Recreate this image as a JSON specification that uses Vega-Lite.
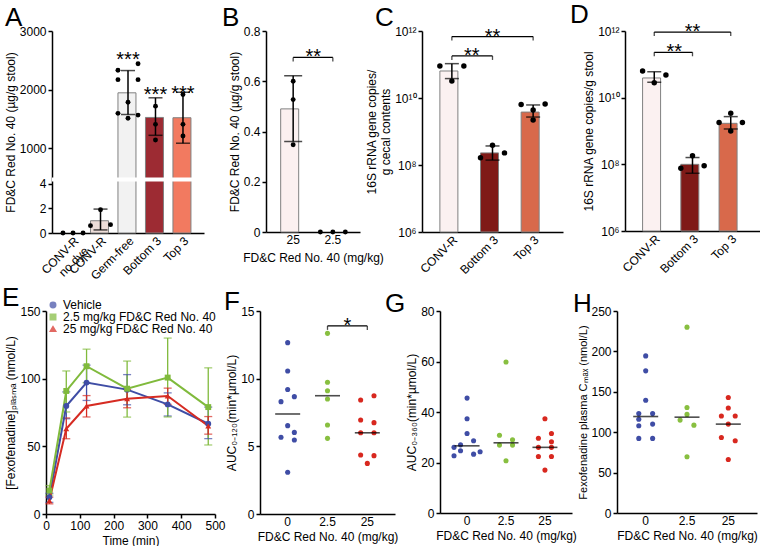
{
  "$schema": "https://vega.github.io/schema/vega-lite/v6.json",
  "background": "white",
  "padding": {"left": 2, "top": 2, "right": 0, "bottom": 0},
  "config": {
    "font": "Liberation Sans",
    "view": {"stroke": null},
    "axis": {"labelFont": "Liberation Sans", "titleFont": "Liberation Sans", "labelFontSize": 12, "titleFontSize": 12, "titleFontWeight": "normal", "labelColor": "black", "titleColor": "black", "domainColor": "black", "tickColor": "black", "domainWidth": 1.5, "tickWidth": 1.5, "tickSize": 4, "labelPadding": 2, "grid": false},
    "axisBand": {"ticks": false},
    "title": {"font": "Liberation Sans", "fontSize": 26, "fontWeight": "normal", "anchor": "start", "frame": "group", "offset": 0, "dy": 10, "color": "black"},
    "legend": {"labelFont": "Liberation Sans", "labelFontSize": 12, "labelColor": "black", "symbolSize": 30, "rowPadding": -10}
  },
  "datasets": {
    "aBar": [
      {"group": "CONV-R no dye", "mean": 0, "lo": 0, "hi": 0},
      {"group": "CONV-R", "mean": 1.0, "lo": 0.25, "hi": 1.95},
      {"group": "Germ-free", "mean": 1945, "lo": 1575, "hi": 2325},
      {"group": "Bottom 3", "mean": 1525, "lo": 1220, "hi": 1860},
      {"group": "Top 3", "mean": 1520, "lo": 1085, "hi": 1955}
    ],
    "aDot": [
      {"group": "CONV-R no dye", "rep": 1, "v": 0},
      {"group": "CONV-R no dye", "rep": 2, "v": 0},
      {"group": "CONV-R no dye", "rep": 3, "v": 0},
      {"group": "CONV-R", "rep": 2, "v": 1.9},
      {"group": "CONV-R", "rep": 1, "v": 0.6},
      {"group": "CONV-R", "rep": 3, "v": 0.68},
      {"group": "Germ-free", "rep": 1, "v": 2330},
      {"group": "Germ-free", "rep": 3, "v": 2440},
      {"group": "Germ-free", "rep": 1, "v": 2170},
      {"group": "Germ-free", "rep": 3, "v": 2170},
      {"group": "Germ-free", "rep": 2, "v": 1785},
      {"group": "Germ-free", "rep": 1, "v": 1595},
      {"group": "Germ-free", "rep": 3, "v": 1565},
      {"group": "Germ-free", "rep": 2, "v": 1510},
      {"group": "Bottom 3", "rep": 2, "v": 1718},
      {"group": "Bottom 3", "rep": 2, "v": 1407},
      {"group": "Bottom 3", "rep": 2, "v": 1141},
      {"group": "Top 3", "rep": 2, "v": 1915},
      {"group": "Top 3", "rep": 2, "v": 1407},
      {"group": "Top 3", "rep": 2, "v": 1209}
    ],
    "aStar": [
      {"group": "Germ-free", "y": 2600, "label": "***"},
      {"group": "Bottom 3", "y": 2005, "label": "***"},
      {"group": "Top 3", "y": 2020, "label": "***"}
    ],
    "bBar": [
      {"dose": "25", "mean": 0.49, "lo": 0.36, "hi": 0.622},
      {"dose": "2.5", "mean": 0, "lo": 0, "hi": 0}
    ],
    "bDot": [
      {"dose": "25", "rep": 2, "v": 0.6},
      {"dose": "25", "rep": 2, "v": 0.527},
      {"dose": "25", "rep": 2, "v": 0.347},
      {"dose": "2.5", "rep": 1, "v": 0},
      {"dose": "2.5", "rep": 2, "v": 0},
      {"dose": "2.5", "rep": 3, "v": 0}
    ],
    "bSig": [{"a": "25", "b": "2.5", "y": 0.695, "label": "**"}],
    "cBar": [
      {"group": "CONV-R", "mean": 6.4e10, "lo": 3.8e10, "hi": 1.06e11},
      {"group": "Bottom 3", "mean": 2.3e8, "lo": 1.4e8, "hi": 3.7e8},
      {"group": "Top 3", "mean": 3.8e9, "lo": 2.7e9, "hi": 6.2e9}
    ],
    "cDot": [
      {"group": "CONV-R", "rep": 1, "v": 9.0e10},
      {"group": "CONV-R", "rep": 3, "v": 9.0e10},
      {"group": "CONV-R", "rep": 2, "v": 3.2e10},
      {"group": "Bottom 3", "rep": 2, "v": 3.9e8},
      {"group": "Bottom 3", "rep": 1, "v": 1.65e8},
      {"group": "Bottom 3", "rep": 3, "v": 2.3e8},
      {"group": "Top 3", "rep": 1, "v": 6.4e9},
      {"group": "Top 3", "rep": 3, "v": 6.6e9},
      {"group": "Top 3", "rep": 2, "v": 4.4e9},
      {"group": "Top 3", "rep": 2, "v": 2.2e9}
    ],
    "cSig": [
      {"a": "CONV-R", "b": "Top 3", "mid": "Bottom 3", "wide": true, "y": 6.8e11, "label": "**"},
      {"a": "CONV-R", "b": "Bottom 3", "mid": "CONV-R", "wide": false, "y": 1.8e11, "label": "**"}
    ],
    "dBar": [
      {"group": "CONV-R", "mean": 3.9e10, "lo": 2.9e10, "hi": 6.0e10},
      {"group": "Bottom 3", "mean": 1.0e8, "lo": 5.4e7, "hi": 1.6e8},
      {"group": "Top 3", "mean": 1.7e9, "lo": 1.15e9, "hi": 2.7e9}
    ],
    "dDot": [
      {"group": "CONV-R", "rep": 1, "v": 6.3e10},
      {"group": "CONV-R", "rep": 3, "v": 4.8e10},
      {"group": "CONV-R", "rep": 2, "v": 2.8e10},
      {"group": "Bottom 3", "rep": 2, "v": 1.8e8},
      {"group": "Bottom 3", "rep": 3, "v": 9.1e7},
      {"group": "Bottom 3", "rep": 1, "v": 7.6e7},
      {"group": "Top 3", "rep": 2, "v": 3.4e9},
      {"group": "Top 3", "rep": 1, "v": 1.8e9},
      {"group": "Top 3", "rep": 3, "v": 1.8e9},
      {"group": "Top 3", "rep": 2, "v": 1.0e9}
    ],
    "dSig": [
      {"a": "CONV-R", "b": "Top 3", "mid": "Bottom 3", "wide": true, "y": 9.3e11, "label": "**"},
      {"a": "CONV-R", "b": "Bottom 3", "mid": "CONV-R", "wide": false, "y": 2.3e11, "label": "**"}
    ],
    "eData": [
      {"series": "Vehicle", "t": 10, "mean": 12.4, "lo": 8.6, "hi": 15.3},
      {"series": "Vehicle", "t": 60, "mean": 79.8, "lo": 70.4, "hi": 90.2},
      {"series": "Vehicle", "t": 120, "mean": 97.1, "lo": 83.9, "hi": 110},
      {"series": "Vehicle", "t": 240, "mean": 91.9, "lo": 80.7, "hi": 103},
      {"series": "Vehicle", "t": 360, "mean": 81.0, "lo": 72.4, "hi": 89.5},
      {"series": "Vehicle", "t": 480, "mean": 66.7, "lo": 55.7, "hi": 79},
      {"series": "2.5 mg/kg FD&C Red No. 40", "t": 10, "mean": 17.3, "lo": 14, "hi": 21},
      {"series": "2.5 mg/kg FD&C Red No. 40", "t": 60, "mean": 90.9, "lo": 75.4, "hi": 105.7},
      {"series": "2.5 mg/kg FD&C Red No. 40", "t": 120, "mean": 109.2, "lo": 97, "hi": 121.8},
      {"series": "2.5 mg/kg FD&C Red No. 40", "t": 240, "mean": 92.6, "lo": 71.6, "hi": 113},
      {"series": "2.5 mg/kg FD&C Red No. 40", "t": 360, "mean": 100.8, "lo": 71.7, "hi": 130},
      {"series": "2.5 mg/kg FD&C Red No. 40", "t": 480, "mean": 79, "lo": 51, "hi": 108},
      {"series": "25 mg/kg FD&C Red No. 40", "t": 10, "mean": 9.9, "lo": 7.5, "hi": 12.5},
      {"series": "25 mg/kg FD&C Red No. 40", "t": 60, "mean": 63, "lo": 55.6, "hi": 71},
      {"series": "25 mg/kg FD&C Red No. 40", "t": 120, "mean": 79.8, "lo": 71.7, "hi": 87.5},
      {"series": "25 mg/kg FD&C Red No. 40", "t": 240, "mean": 85.2, "lo": 78.5, "hi": 92},
      {"series": "25 mg/kg FD&C Red No. 40", "t": 360, "mean": 87.2, "lo": 81, "hi": 93},
      {"series": "25 mg/kg FD&C Red No. 40", "t": 480, "mean": 65, "lo": 59, "hi": 72}
    ],
    "fDot": [
      {"dose": "0", "rep": 3, "v": 12.66}, {"dose": "0", "rep": 3, "v": 10.57}, {"dose": "0", "rep": 3, "v": 9.2},
      {"dose": "0", "rep": 2, "v": 8.3}, {"dose": "0", "rep": 4, "v": 8.67}, {"dose": "0", "rep": 3, "v": 6.53},
      {"dose": "0", "rep": 4, "v": 6.03}, {"dose": "0", "rep": 2, "v": 5.67}, {"dose": "0", "rep": 4, "v": 5.47},
      {"dose": "0", "rep": 3, "v": 3.08},
      {"dose": "2.5", "rep": 3, "v": 13.35}, {"dose": "2.5", "rep": 3, "v": 9.73}, {"dose": "2.5", "rep": 3, "v": 9.11},
      {"dose": "2.5", "rep": 3, "v": 8.5}, {"dose": "2.5", "rep": 3, "v": 6.58}, {"dose": "2.5", "rep": 3, "v": 5.59},
      {"dose": "25", "rep": 2, "v": 8.42}, {"dose": "25", "rep": 4, "v": 8.74}, {"dose": "25", "rep": 2, "v": 6.95},
      {"dose": "25", "rep": 4, "v": 6.75}, {"dose": "25", "rep": 2, "v": 6.0}, {"dose": "25", "rep": 4, "v": 6.0},
      {"dose": "25", "rep": 2, "v": 4.36}, {"dose": "25", "rep": 4, "v": 4.31}, {"dose": "25", "rep": 3, "v": 3.74}
    ],
    "fMed": [{"dose": "0", "med": 7.39}, {"dose": "2.5", "med": 8.74}, {"dose": "25", "med": 6.0}],
    "fSig": [{"a": "2.5", "b": "25", "y": 13.9, "label": "*"}],
    "gDot": [
      {"dose": "0", "rep": 3, "v": 45.5}, {"dose": "0", "rep": 3, "v": 37.3}, {"dose": "0", "rep": 3, "v": 31.5},
      {"dose": "0", "rep": 4, "v": 28.6}, {"dose": "0", "rep": 2, "v": 27.0}, {"dose": "0", "rep": 1, "v": 26.0},
      {"dose": "0", "rep": 2, "v": 24.65}, {"dose": "0", "rep": 5, "v": 24.25}, {"dose": "0", "rep": 4, "v": 23.3},
      {"dose": "0", "rep": 1, "v": 22.67},
      {"dose": "2.5", "rep": 3, "v": 59.8}, {"dose": "2.5", "rep": 2, "v": 30.8}, {"dose": "2.5", "rep": 4, "v": 29.0},
      {"dose": "2.5", "rep": 2, "v": 26.9}, {"dose": "2.5", "rep": 4, "v": 26.9}, {"dose": "2.5", "rep": 3, "v": 20.7},
      {"dose": "25", "rep": 3, "v": 37.3}, {"dose": "25", "rep": 4, "v": 31.5}, {"dose": "25", "rep": 2, "v": 29.6},
      {"dose": "25", "rep": 4, "v": 28.2}, {"dose": "25", "rep": 2, "v": 26.0}, {"dose": "25", "rep": 4, "v": 26.0},
      {"dose": "25", "rep": 2, "v": 22.4}, {"dose": "25", "rep": 4, "v": 22.4}, {"dose": "25", "rep": 3, "v": 17.0}
    ],
    "gMed": [{"dose": "0", "med": 26.6}, {"dose": "2.5", "med": 27.8}, {"dose": "25", "med": 26.0}],
    "hDot": [
      {"dose": "0", "rep": 3, "v": 194.4}, {"dose": "0", "rep": 3, "v": 175.9}, {"dose": "0", "rep": 3, "v": 139.6},
      {"dose": "0", "rep": 2, "v": 123}, {"dose": "0", "rep": 4, "v": 123}, {"dose": "0", "rep": 2, "v": 116},
      {"dose": "0", "rep": 4, "v": 110}, {"dose": "0", "rep": 2, "v": 108}, {"dose": "0", "rep": 2, "v": 92.3},
      {"dose": "0", "rep": 4, "v": 92.3},
      {"dose": "2.5", "rep": 3, "v": 230}, {"dose": "2.5", "rep": 3, "v": 130.5}, {"dose": "2.5", "rep": 3, "v": 122},
      {"dose": "2.5", "rep": 2, "v": 115}, {"dose": "2.5", "rep": 4, "v": 108.7}, {"dose": "2.5", "rep": 3, "v": 69.6},
      {"dose": "25", "rep": 3, "v": 142.9}, {"dose": "25", "rep": 3, "v": 130}, {"dose": "25", "rep": 2, "v": 120},
      {"dose": "25", "rep": 4, "v": 120}, {"dose": "25", "rep": 3, "v": 110}, {"dose": "25", "rep": 2, "v": 93.5},
      {"dose": "25", "rep": 4, "v": 89.4}, {"dose": "25", "rep": 3, "v": 66.3}
    ],
    "hMed": [{"dose": "0", "med": 119.4}, {"dose": "2.5", "med": 118.6}, {"dose": "25", "med": 110}]
  },
  "spacing": -1,
  "align": "none",
  "resolve": {"scale": {"color": "independent", "xOffset": "independent", "shape": "independent"}},
  "vconcat": [
    {
      "bounds": "flush",
      "spacing": 62,
      "resolve": {"scale": {"color": "independent", "xOffset": "independent", "shape": "independent"}},
      "hconcat": [
        {
          "width": 152, "height": 202,
          "title": {"text": "A", "dx": -47},
          "layer": [
            {
              "data": {"name": "aBar"},
              "transform": [{"filter": "datum.mean > 0"}],
              "mark": {"type": "bar", "stroke": "#808080", "strokeWidth": 1},
              "encoding": {
                "x": {"field": "group", "type": "nominal", "scale": {"domain": ["CONV-R no dye", "CONV-R", "Germ-free", "Bottom 3", "Top 3"], "paddingInner": 0.27, "paddingOuter": 0.4}, "axis": {"title": null, "labelAngle": -45, "labelExpr": "datum.label == 'CONV-R no dye' ? ['CONV-R', 'no dye'] : datum.label"}},
                "y": {"field": "mean", "type": "quantitative", "scale": {"domain": [0, 4.2, 500, 3000], "range": [202, 150.5, 146.5, 0], "nice": false, "zero": false}, "axis": {"values": [0, 2, 4, 1000, 2000, 3000], "format": "d", "title": "FD&C Red No. 40 (µg/g stool)", "titlePadding": 2}},
                "y2": {"datum": 0},
                "color": {"field": "group", "type": "nominal", "scale": {"domain": ["CONV-R no dye", "CONV-R", "Germ-free", "Bottom 3", "Top 3"], "range": ["#FFFFFF", "#EDDDD8", "#F2F2F2", "#9D2B33", "#F27A60"]}, "legend": null}
              }
            },
            {
              "data": {"values": [{}]},
              "mark": {"type": "rect", "color": "white"},
              "encoding": {"y": {"datum": 4.2}, "y2": {"datum": 500}}
            },
            {
              "data": {"name": "aBar"},
              "transform": [{"filter": "datum.hi > datum.lo"}],
              "mark": {"type": "rule", "color": "black", "strokeWidth": 1.5},
              "encoding": {"x": {"field": "group", "type": "nominal"}, "y": {"field": "lo", "type": "quantitative"}, "y2": {"field": "hi"}}
            },
            {
              "data": {"name": "aBar"},
              "transform": [{"filter": "datum.hi > datum.lo"}, {"fold": ["lo", "hi"], "as": ["k", "e"]}],
              "mark": {"type": "tick", "color": "black", "size": 14, "thickness": 1.5, "orient": "horizontal"},
              "encoding": {"x": {"field": "group", "type": "nominal"}, "y": {"field": "e", "type": "quantitative"}}
            },
            {
              "data": {"name": "aDot"},
              "mark": {"type": "circle", "size": 24, "color": "black", "opacity": 1},
              "encoding": {"x": {"field": "group", "type": "nominal"}, "xOffset": {"field": "rep", "type": "ordinal", "scale": {"domain": [1, 2, 3], "paddingInner": 0, "paddingOuter": 0}}, "y": {"field": "v", "type": "quantitative"}}
            },
            {
              "data": {"name": "aStar"},
              "mark": {"type": "text", "fontSize": 20, "baseline": "alphabetic", "dy": 12, "color": "black"},
              "encoding": {"x": {"field": "group", "type": "nominal"}, "y": {"field": "y", "type": "quantitative"}, "text": {"field": "label"}}
            }
          ]
        },
        {
          "width": 94, "height": 201,
          "title": {"text": "B", "dx": -44, "align": "left"},
          "layer": [
            {
              "data": {"name": "bBar"},
              "transform": [{"filter": "datum.mean > 0"}],
              "mark": {"type": "bar", "stroke": "#808080", "strokeWidth": 1, "color": "#FBF0F0"},
              "encoding": {
                "x": {"field": "dose", "type": "nominal", "scale": {"domain": ["25", "2.5"], "paddingInner": 0.37, "paddingOuter": 0.37}, "axis": {"title": "FD&C Red No. 40 (mg/kg)", "labelAngle": 0, "titlePadding": 7}},
                "y": {"field": "mean", "type": "quantitative", "scale": {"domain": [0, 0.8], "nice": false}, "axis": {"values": [0, 0.2, 0.4, 0.6, 0.8], "format": "~g", "title": "FD&C Red No. 40 (µg/g stool)", "titlePadding": 2}},
                "y2": {"datum": 0}
              }
            },
            {
              "data": {"name": "bBar"},
              "transform": [{"filter": "datum.hi > datum.lo"}],
              "mark": {"type": "rule", "color": "black", "strokeWidth": 1.5},
              "encoding": {"x": {"field": "dose", "type": "nominal"}, "y": {"field": "lo", "type": "quantitative"}, "y2": {"field": "hi"}}
            },
            {
              "data": {"name": "bBar"},
              "transform": [{"filter": "datum.hi > datum.lo"}, {"fold": ["lo", "hi"], "as": ["k", "e"]}],
              "mark": {"type": "tick", "color": "black", "size": 18, "thickness": 1.5, "orient": "horizontal"},
              "encoding": {"x": {"field": "dose", "type": "nominal"}, "y": {"field": "e", "type": "quantitative"}}
            },
            {
              "data": {"name": "bDot"},
              "mark": {"type": "circle", "size": 24, "color": "black", "opacity": 1},
              "encoding": {"x": {"field": "dose", "type": "nominal"}, "xOffset": {"field": "rep", "type": "ordinal", "scale": {"domain": [1, 2, 3], "paddingInner": 0, "paddingOuter": 0}}, "y": {"field": "v", "type": "quantitative"}}
            },
            {
              "data": {"name": "bSig"},
              "mark": {"type": "rule", "color": "black", "strokeWidth": 1.3},
              "encoding": {"x": {"field": "a", "type": "nominal"}, "x2": {"field": "b"}, "y": {"field": "y", "type": "quantitative"}}
            },
            {
              "data": {"name": "bSig"},
              "transform": [{"fold": ["a", "b"], "as": ["k", "end"]}],
              "mark": {"type": "tick", "color": "black", "size": 4, "thickness": 1.3, "orient": "vertical", "yOffset": 2},
              "encoding": {"x": {"field": "end", "type": "nominal"}, "y": {"field": "y", "type": "quantitative"}}
            },
            {
              "data": {"name": "bSig"},
              "mark": {"type": "text", "fontSize": 20, "baseline": "alphabetic", "dy": 6, "dx": 20, "color": "black"},
              "encoding": {"x": {"field": "a", "type": "nominal"}, "y": {"field": "y", "type": "quantitative"}, "text": {"field": "label"}}
            }
          ]
        },
        {
          "width": 141, "height": 201,
          "title": {"text": "C", "dx": -47},
          "layer": [
            {
              "data": {"name": "cBar"},
              "mark": {"type": "bar", "stroke": "#808080", "strokeWidth": 1},
              "encoding": {
                "x": {"field": "group", "type": "nominal", "scale": {"domain": ["CONV-R", "Bottom 3", "Top 3"], "paddingInner": 0.41, "paddingOuter": 0.44}, "axis": {"title": null, "labelAngle": -45}},
                "y": {"field": "mean", "type": "quantitative", "scale": {"type": "log", "domain": [1e6, 1e12], "nice": false}, "axis": {"values": [1e6, 1e8, 1e10, 1e12], "labelExpr": "datum.value < 1e7 ? '10⁶' : datum.value < 1e9 ? '10⁸' : datum.value < 1e11 ? '10¹⁰' : '10¹²'", "title": ["16S rRNA gene copies/", "g cecal contents"], "titlePadding": 2}},
                "y2": {"datum": 1000000},
                "color": {"field": "group", "type": "nominal", "scale": {"domain": ["CONV-R", "Bottom 3", "Top 3"], "range": ["#FBF1F1", "#7F1A17", "#D8694B"]}, "legend": null}
              }
            },
            {
              "data": {"name": "cBar"},
              "mark": {"type": "rule", "color": "black", "strokeWidth": 1.5},
              "encoding": {"x": {"field": "group", "type": "nominal"}, "y": {"field": "lo", "type": "quantitative"}, "y2": {"field": "hi"}}
            },
            {
              "data": {"name": "cBar"},
              "transform": [{"fold": ["lo", "hi"], "as": ["k", "e"]}],
              "mark": {"type": "tick", "color": "black", "size": 14, "thickness": 1.5, "orient": "horizontal"},
              "encoding": {"x": {"field": "group", "type": "nominal"}, "y": {"field": "e", "type": "quantitative"}}
            },
            {
              "data": {"name": "cDot"},
              "mark": {"type": "circle", "size": 30, "color": "black", "opacity": 1},
              "encoding": {"x": {"field": "group", "type": "nominal"}, "xOffset": {"field": "rep", "type": "ordinal", "scale": {"domain": [1, 2, 3], "paddingInner": 0, "paddingOuter": 0}}, "y": {"field": "v", "type": "quantitative"}}
            },
            {
              "data": {"name": "cSig"},
              "mark": {"type": "rule", "color": "black", "strokeWidth": 1.3},
              "encoding": {"x": {"field": "a", "type": "nominal"}, "x2": {"field": "b"}, "y": {"field": "y", "type": "quantitative"}}
            },
            {
              "data": {"name": "cSig"},
              "transform": [{"fold": ["a", "b"], "as": ["k", "end"]}],
              "mark": {"type": "tick", "color": "black", "size": 4, "thickness": 1.3, "orient": "vertical", "yOffset": 2},
              "encoding": {"x": {"field": "end", "type": "nominal"}, "y": {"field": "y", "type": "quantitative"}}
            },
            {
              "data": {"name": "cSig"},
              "transform": [{"filter": "datum.wide"}],
              "mark": {"type": "text", "fontSize": 20, "baseline": "alphabetic", "dy": 6, "color": "black"},
              "encoding": {"x": {"field": "mid", "type": "nominal"}, "y": {"field": "y", "type": "quantitative"}, "text": {"field": "label"}}
            },
            {
              "data": {"name": "cSig"},
              "transform": [{"filter": "!datum.wide"}],
              "mark": {"type": "text", "fontSize": 20, "baseline": "alphabetic", "dy": 6, "dx": 20, "color": "black"},
              "encoding": {"x": {"field": "mid", "type": "nominal"}, "y": {"field": "y", "type": "quantitative"}, "text": {"field": "label"}}
            }
          ]
        },
        {
          "width": 135, "height": 200,
          "title": {"text": "D", "dx": -55},
          "layer": [
            {
              "data": {"name": "dBar"},
              "mark": {"type": "bar", "stroke": "#808080", "strokeWidth": 1},
              "encoding": {
                "x": {"field": "group", "type": "nominal", "scale": {"domain": ["CONV-R", "Bottom 3", "Top 3"], "paddingInner": 0.39, "paddingOuter": 0.46}, "axis": {"title": null, "labelAngle": -45}},
                "y": {"field": "mean", "type": "quantitative", "scale": {"type": "log", "domain": [1e6, 1e12], "nice": false}, "axis": {"values": [1e6, 1e8, 1e10, 1e12], "labelExpr": "datum.value < 1e7 ? '10⁶' : datum.value < 1e9 ? '10⁸' : datum.value < 1e11 ? '10¹⁰' : '10¹²'", "title": "16S rRNA gene copies/g stool", "titlePadding": 2}},
                "y2": {"datum": 1000000},
                "color": {"field": "group", "type": "nominal", "scale": {"domain": ["CONV-R", "Bottom 3", "Top 3"], "range": ["#FBF1F1", "#7F1A17", "#D8694B"]}, "legend": null}
              }
            },
            {
              "data": {"name": "dBar"},
              "mark": {"type": "rule", "color": "black", "strokeWidth": 1.5},
              "encoding": {"x": {"field": "group", "type": "nominal"}, "y": {"field": "lo", "type": "quantitative"}, "y2": {"field": "hi"}}
            },
            {
              "data": {"name": "dBar"},
              "transform": [{"fold": ["lo", "hi"], "as": ["k", "e"]}],
              "mark": {"type": "tick", "color": "black", "size": 14, "thickness": 1.5, "orient": "horizontal"},
              "encoding": {"x": {"field": "group", "type": "nominal"}, "y": {"field": "e", "type": "quantitative"}}
            },
            {
              "data": {"name": "dDot"},
              "mark": {"type": "circle", "size": 30, "color": "black", "opacity": 1},
              "encoding": {"x": {"field": "group", "type": "nominal"}, "xOffset": {"field": "rep", "type": "ordinal", "scale": {"domain": [1, 2, 3], "paddingInner": 0, "paddingOuter": 0}}, "y": {"field": "v", "type": "quantitative"}}
            },
            {
              "data": {"name": "dSig"},
              "mark": {"type": "rule", "color": "black", "strokeWidth": 1.3},
              "encoding": {"x": {"field": "a", "type": "nominal"}, "x2": {"field": "b"}, "y": {"field": "y", "type": "quantitative"}}
            },
            {
              "data": {"name": "dSig"},
              "transform": [{"fold": ["a", "b"], "as": ["k", "end"]}],
              "mark": {"type": "tick", "color": "black", "size": 4, "thickness": 1.3, "orient": "vertical", "yOffset": 2},
              "encoding": {"x": {"field": "end", "type": "nominal"}, "y": {"field": "y", "type": "quantitative"}}
            },
            {
              "data": {"name": "dSig"},
              "transform": [{"filter": "datum.wide"}],
              "mark": {"type": "text", "fontSize": 20, "baseline": "alphabetic", "dy": 6, "color": "black"},
              "encoding": {"x": {"field": "mid", "type": "nominal"}, "y": {"field": "y", "type": "quantitative"}, "text": {"field": "label"}}
            },
            {
              "data": {"name": "dSig"},
              "transform": [{"filter": "!datum.wide"}],
              "mark": {"type": "text", "fontSize": 20, "baseline": "alphabetic", "dy": 6, "dx": 20, "color": "black"},
              "encoding": {"x": {"field": "mid", "type": "nominal"}, "y": {"field": "y", "type": "quantitative"}, "text": {"field": "label"}}
            }
          ]
        }
      ]
    },
    {
      "bounds": "flush",
      "spacing": 45,
      "resolve": {"scale": {"color": "independent", "xOffset": "independent", "shape": "independent"}},
      "hconcat": [
        {
          "width": 163, "height": 203,
          "title": {"text": "E", "dx": -50, "dy": 16},
          "data": {"name": "eData"},
          "encoding": {
            "x": {"field": "t", "type": "quantitative", "scale": {"domain": [0, 500], "range": [-6, 163], "nice": false}, "axis": {"values": [0, 100, 200, 300, 400, 500], "title": "Time (min)", "labelFlush": false}},
            "color": {"field": "series", "type": "nominal", "scale": {"domain": ["Vehicle", "2.5 mg/kg FD&C Red No. 40", "25 mg/kg FD&C Red No. 40"], "range": ["#3F4DA5", "#80BA3C", "#D62B22"]}, "legend": {"title": null, "orient": "none", "legendX": -5, "legendY": -12}}
          },
          "layer": [
            {
              "mark": {"type": "rule", "strokeWidth": 1.3},
              "encoding": {"y": {"field": "lo", "type": "quantitative", "scale": {"domain": [0, 150], "nice": false}, "axis": {"values": [0, 50, 100, 150], "title": "[Fexofenadine]ₚₗₐₛₘₐ (nmol/L)", "titlePadding": 2, "offset": 6}}, "y2": {"field": "hi"}}
            },
            {
              "transform": [{"fold": ["lo", "hi"], "as": ["k", "e"]}],
              "mark": {"type": "tick", "size": 8, "thickness": 1.3, "orient": "horizontal"},
              "encoding": {"y": {"field": "e", "type": "quantitative"}}
            },
            {
              "mark": {"type": "line", "strokeWidth": 2},
              "encoding": {"y": {"field": "mean", "type": "quantitative"}}
            },
            {
              "mark": {"type": "point", "filled": true, "size": 35, "opacity": 1},
              "encoding": {"y": {"field": "mean", "type": "quantitative"}, "shape": {"field": "series", "type": "nominal", "scale": {"domain": ["Vehicle", "2.5 mg/kg FD&C Red No. 40", "25 mg/kg FD&C Red No. 40"], "range": ["circle", "square", "triangle-up"]}, "legend": {"title": null, "orient": "none", "legendX": -5, "legendY": -12}}}
            }
          ]
        },
        {
          "width": 135, "height": 203,
          "title": {"text": "F", "dx": -36, "dy": 14},
          "layer": [
            {
              "data": {"name": "fDot"},
              "mark": {"type": "circle", "size": 26, "opacity": 1},
              "encoding": {
                "x": {"field": "dose", "type": "nominal", "scale": {"domain": ["0", "2.5", "25"], "paddingInner": 0.33, "paddingOuter": 0.36}, "axis": {"title": "FD&C Red No. 40 (mg/kg)", "labelAngle": 0}},
                "xOffset": {"field": "rep", "type": "ordinal", "scale": {"domain": [1, 2, 3, 4, 5], "paddingInner": 0, "paddingOuter": 0}},
                "y": {"field": "v", "type": "quantitative", "scale": {"domain": [0, 15], "nice": false}, "axis": {"values": [0, 5, 10, 15], "title": "AUC₀₋₁₂₀(min*µmol/L)", "titlePadding": 2}},
                "color": {"field": "dose", "type": "nominal", "scale": {"domain": ["0", "2.5", "25"], "range": ["#3F4DA5", "#88BF40", "#D8281F"]}, "legend": null}
              }
            },
            {
              "data": {"name": "fMed"},
              "mark": {"type": "tick", "color": "black", "size": 25, "thickness": 1.6, "orient": "horizontal"},
              "encoding": {"x": {"field": "dose", "type": "nominal"}, "y": {"field": "med", "type": "quantitative"}}
            },
            {
              "data": {"name": "fSig"},
              "mark": {"type": "rule", "color": "black", "strokeWidth": 1.3},
              "encoding": {"x": {"field": "a", "type": "nominal"}, "x2": {"field": "b"}, "y": {"field": "y", "type": "quantitative"}}
            },
            {
              "data": {"name": "fSig"},
              "transform": [{"fold": ["a", "b"], "as": ["k", "end"]}],
              "mark": {"type": "tick", "color": "black", "size": 4, "thickness": 1.3, "orient": "vertical", "yOffset": 2},
              "encoding": {"x": {"field": "end", "type": "nominal"}, "y": {"field": "y", "type": "quantitative"}}
            },
            {
              "data": {"name": "fSig"},
              "mark": {"type": "text", "fontSize": 20, "baseline": "alphabetic", "dy": 6, "dx": 20, "color": "black"},
              "encoding": {"x": {"field": "a", "type": "nominal"}, "y": {"field": "y", "type": "quantitative"}, "text": {"field": "label"}}
            }
          ]
        },
        {
          "width": 132, "height": 202,
          "title": {"text": "G", "dx": -55, "dy": 16},
          "layer": [
            {
              "data": {"name": "gDot"},
              "mark": {"type": "circle", "size": 26, "opacity": 1},
              "encoding": {
                "x": {"field": "dose", "type": "nominal", "scale": {"domain": ["0", "2.5", "25"], "paddingInner": 0.33, "paddingOuter": 0.36}, "axis": {"title": "FD&C Red No. 40 (mg/kg)", "labelAngle": 0}},
                "xOffset": {"field": "rep", "type": "ordinal", "scale": {"domain": [1, 2, 3, 4, 5], "paddingInner": 0, "paddingOuter": 0}},
                "y": {"field": "v", "type": "quantitative", "scale": {"domain": [0, 80], "nice": false}, "axis": {"values": [0, 20, 40, 60, 80], "title": "AUC₀₋₃₆₀(min*µmol/L)", "titlePadding": 2}},
                "color": {"field": "dose", "type": "nominal", "scale": {"domain": ["0", "2.5", "25"], "range": ["#3F4DA5", "#88BF40", "#D8281F"]}, "legend": null}
              }
            },
            {
              "data": {"name": "gMed"},
              "mark": {"type": "tick", "color": "black", "size": 25, "thickness": 1.6, "orient": "horizontal"},
              "encoding": {"x": {"field": "dose", "type": "nominal"}, "y": {"field": "med", "type": "quantitative"}}
            }
          ]
        },
        {
          "width": 140, "height": 202,
          "title": {"text": "H", "dx": -44, "dy": 16},
          "layer": [
            {
              "data": {"name": "hDot"},
              "mark": {"type": "circle", "size": 26, "opacity": 1},
              "encoding": {
                "x": {"field": "dose", "type": "nominal", "scale": {"domain": ["0", "2.5", "25"], "paddingInner": 0.33, "paddingOuter": 0.36}, "axis": {"title": "FD&C Red No. 40 (mg/kg)", "labelAngle": 0}},
                "xOffset": {"field": "rep", "type": "ordinal", "scale": {"domain": [1, 2, 3, 4, 5], "paddingInner": 0, "paddingOuter": 0}},
                "y": {"field": "v", "type": "quantitative", "scale": {"domain": [0, 250], "nice": false}, "axis": {"values": [0, 50, 100, 150, 200, 250], "title": "Fexofenadine plasma Cₘₐₓ (nmol/L)", "titleFontSize": 11, "titlePadding": 2}},
                "color": {"field": "dose", "type": "nominal", "scale": {"domain": ["0", "2.5", "25"], "range": ["#3F4DA5", "#88BF40", "#D8281F"]}, "legend": null}
              }
            },
            {
              "data": {"name": "hMed"},
              "mark": {"type": "tick", "color": "black", "size": 25, "thickness": 1.6, "orient": "horizontal"},
              "encoding": {"x": {"field": "dose", "type": "nominal"}, "y": {"field": "med", "type": "quantitative"}}
            }
          ]
        }
      ]
    }
  ]
}
